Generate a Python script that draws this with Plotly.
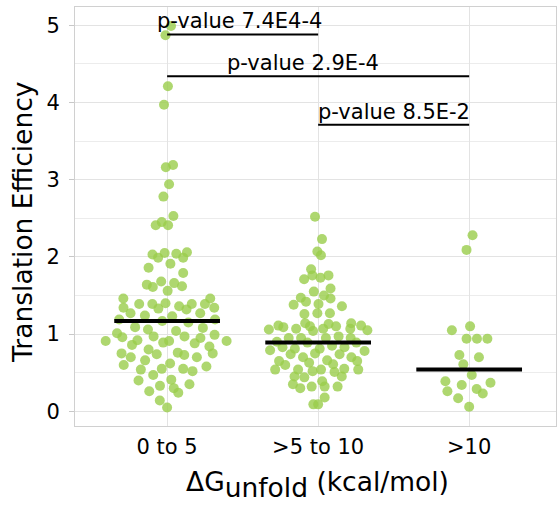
import numpy as np
import plotly.graph_objects as go

# ---------------- data ----------------
categories = ["0 to 5", ">5 to 10", ">10"]

te_0_to_5 = [4.99, 4.87, 4.21, 3.97, 3.19, 3.16, 2.94, 2.78,
             2.53, 2.45, 2.41, 2.41,
             2.06, 2.05, 2.04, 2.03, 1.99, 1.99,
             1.91, 1.86, 1.79,
             1.68, 1.66, 1.64, 1.62, 1.61, 1.56,
             1.46, 1.46, 1.40, 1.39, 1.39, 1.39, 1.39, 1.36,
             1.34, 1.34, 1.33, 1.32, 1.27, 1.27,
             1.24, 1.23, 1.19, 1.19, 1.17, 1.15,
             1.09, 1.08, 1.06, 1.04,
             1.01, 0.99, 0.97, 0.97, 0.96, 0.95, 0.92, 0.91, 0.91, 0.91, 0.89, 0.88,
             0.86, 0.84, 0.80,
             0.76, 0.75, 0.75, 0.74, 0.73, 0.70, 0.70,
             0.66, 0.62, 0.60, 0.58, 0.55, 0.55, 0.54, 0.52, 0.47,
             0.41, 0.40, 0.35, 0.33, 0.30, 0.26, 0.24, 0.14, 0.05]

te_5_to_10 = [2.52, 2.23, 2.07, 2.02, 1.84, 1.76, 1.76, 1.73, 1.71,
              1.59, 1.55, 1.50, 1.47, 1.46, 1.42, 1.39, 1.38, 1.36,
              1.27, 1.27, 1.26,
              1.14, 1.14, 1.13, 1.11, 1.11, 1.10, 1.10, 1.09, 1.07, 1.07, 1.07, 1.06, 1.05, 1.04,
              0.97, 0.95, 0.95, 0.95, 0.95, 0.90, 0.89, 0.89,
              0.85, 0.83, 0.83, 0.81, 0.81, 0.79, 0.78, 0.75, 0.74, 0.74, 0.70, 0.70,
              0.66, 0.65, 0.65, 0.63, 0.61, 0.60,
              0.55, 0.54, 0.54, 0.54, 0.54, 0.52, 0.51,
              0.45, 0.45, 0.44, 0.39, 0.35, 0.32, 0.32, 0.32, 0.30,
              0.18, 0.09, 0.09]

te_gt_10 = [2.28, 2.09, 1.10, 1.05, 0.94, 0.94, 0.94, 0.73, 0.70, 0.61,
            0.47, 0.39, 0.37, 0.34, 0.29, 0.26, 0.23, 0.17, 0.06]

medians = [1.17, 0.89, 0.54]

comparisons = [(0, 1), (0, 2), (1, 2)]
p_labels = ["p-value 7.4E4-4", "p-value 2.9E-4", "p-value 8.5E-2"]
bracket_y = [4.88, 4.34, 3.71]
label_x = [0.48, 0.9, 1.5]

groups = [te_0_to_5, te_5_to_10, te_gt_10]

# ---------------- layout geometry ----------------
W, H = 558, 508
ML, MR, MT, MB = 75, 2, 7, 82
XR = [-0.61, 2.575]
YR = [-0.19, 5.235]
SWARM_WIDTHS = [0.42, 0.36, 0.2]


def van_der_corput(n, base=2):
    seq = []
    for k in range(1, n + 1):
        v, denom, i = 0.0, 1.0, k
        while i > 0:
            i, r = divmod(i, base)
            denom *= base
            v += r / denom
        seq.append(v)
    return np.array(seq)


def quasirandom_offsets(vals, width, adjust=0.5):
    y = np.asarray(vals, dtype=float)
    n = len(y)
    sd = y.std(ddof=1)
    iqr = np.subtract(*np.percentile(y, [75, 25]))
    bw = 0.9 * min(sd, iqr / 1.34) * n ** (-0.2) * adjust
    grid = np.linspace(y.min() - 3 * bw, y.max() + 3 * bw, 512)

    def kde(p):
        return np.exp(-0.5 * ((p[:, None] - y[None, :]) / bw) ** 2).sum(axis=1)

    dmax = kde(grid).max()
    dens = kde(y) / dmax
    ranks = np.argsort(np.argsort(y, kind="stable"), kind="stable")
    vdc = van_der_corput(n)[ranks]
    return (vdc - 0.5) * 2 * dens * width


fig = go.Figure()

for gi, vals in enumerate(groups):
    offs = quasirandom_offsets(vals, SWARM_WIDTHS[gi])
    fig.add_trace(go.Scatter(
        x=gi + offs, y=vals, mode="markers",
        marker=dict(size=10, color="rgba(154,205,75,0.8)", line=dict(width=0)),
        showlegend=False, hoverinfo="y"))

for gi, m in enumerate(medians):
    fig.add_trace(go.Scatter(
        x=[gi - 0.35, gi + 0.35], y=[m, m], mode="lines",
        line=dict(color="black", width=4), showlegend=False, hoverinfo="skip"))

for (a, b), lab, by, lx in zip(comparisons, p_labels, bracket_y, label_x):
    fig.add_shape(type="line", x0=a, x1=b, y0=by, y1=by,
                  line=dict(color="black", width=2))
    fig.add_annotation(x=lx, y=by, text=lab, showarrow=False,
                       xanchor="center", yanchor="bottom", yshift=-1,
                       font=dict(size=21, color="black", family="DejaVu Sans"))

# axis titles
fig.add_annotation(xref="paper", yref="paper", x=(317 - ML) / (W - ML - MR),
                   y=1 - (484 - MT) / (H - MT - MB), yanchor="middle", xanchor="center",
                   text="ΔG<sub><span style='font-size:26.5px'>unfold</span></sub> (kcal/mol)",
                   showarrow=False, font=dict(size=26.5, color="black"))
fig.add_annotation(xref="paper", yref="paper", x=-(ML - 22) / (W - ML - MR),
                   y=1 - (223 - MT) / (H - MT - MB), yanchor="middle", xanchor="center",
                   text="Translation Efficiency", textangle=-90,
                   showarrow=False, font=dict(size=26.5, color="black"))

fig.update_layout(
    width=W, height=H,
    margin=dict(l=ML, r=MR, t=MT, b=MB),
    plot_bgcolor="white", paper_bgcolor="white",
    font=dict(family="DejaVu Sans", color="black"),
    xaxis=dict(
        range=XR, tickvals=[0, 1, 2], ticktext=categories, automargin=False,
        showgrid=True, gridcolor="#e3e3e3", gridwidth=1,
        zeroline=False, showline=True, linecolor="#d0d0d0", mirror=True,
        ticks="", ticklabelstandoff=2,
        tickfont=dict(size=21, color="black"),
    ),
    yaxis=dict(
        range=YR, tickvals=[0, 1, 2, 3, 4, 5], automargin=False,
        showgrid=True, gridcolor="#e3e3e3", gridwidth=1,
        minor=dict(dtick=0.5, tick0=0, showgrid=True, gridcolor="#ececec", gridwidth=1),
        zeroline=False, showline=True, linecolor="#d0d0d0", mirror=True,
        ticks="outside", ticklen=5, tickcolor="#c8c8c8", ticklabelstandoff=5,
        tickfont=dict(size=21, color="black"),
    ),
)

fig.write_html("out.html", config={"displayModeBar": False},
               post_script="document.body.style.margin='0';document.body.style.overflow='hidden';")
